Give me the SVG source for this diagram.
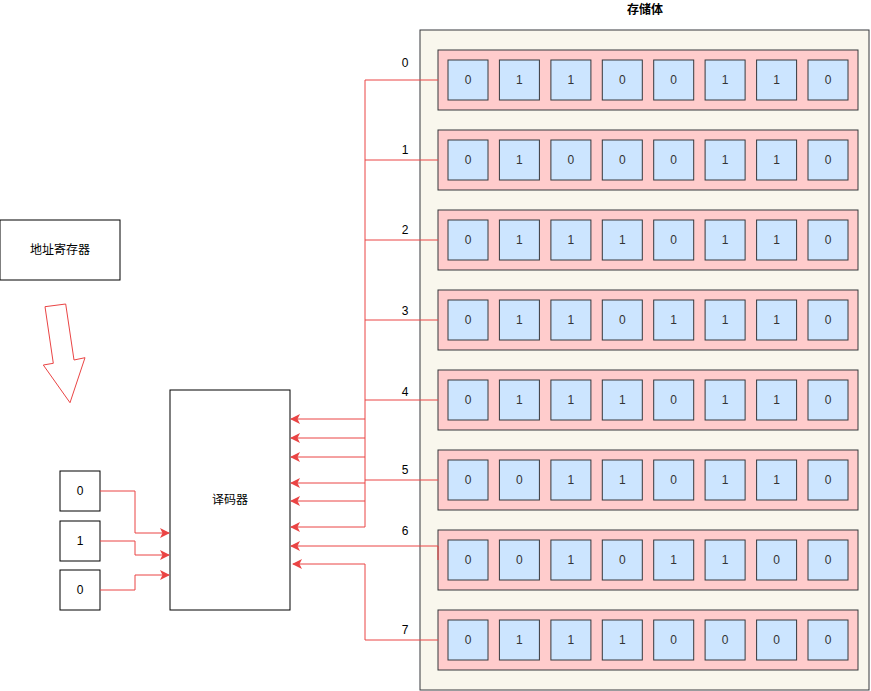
<svg xmlns="http://www.w3.org/2000/svg" width="871" height="691" viewBox="0 0 871 691">
<defs>
<marker id="ah" markerUnits="userSpaceOnUse" markerWidth="12" markerHeight="10" refX="9" refY="5" orient="auto">
<path d="M0,0 L10,5 L0,10 L2.5,5 Z" fill="#ea4444"/>
</marker>
<style>
text{font-family:"Liberation Sans","Noto Sans CJK SC",sans-serif;font-size:12px;fill:#333;text-anchor:middle;dominant-baseline:central}
.box{fill:#fff;stroke:#000;stroke-width:1}
.row{fill:#ffcccc;stroke:#36393d;stroke-width:1}
.cell{fill:#cce5ff;stroke:#36393d;stroke-width:1}
.c{fill:none;stroke:#ea4444;stroke-width:1}
.ca{fill:none;stroke:#ea4444;stroke-width:1;marker-end:url(#ah)}
.lbl{fill:#000}
</style>
</defs>
<rect width="871" height="691" fill="#fff"/>
<g id="storage">
<rect x="420" y="30" width="449" height="660" fill="#f9f7ed" stroke="#36393d"/>
<text x="645" y="10" style="font-weight:bold" class="lbl">存储体</text>
</g>
<g id="row0"><rect class="row" x="438" y="50" width="420" height="60"/>
<rect class="cell" x="448" y="60" width="40" height="40"/><text x="468" y="80">0</text>
<rect class="cell" x="499.4" y="60" width="40" height="40"/><text x="519.4" y="80">1</text>
<rect class="cell" x="550.9" y="60" width="40" height="40"/><text x="570.9" y="80">1</text>
<rect class="cell" x="602.3" y="60" width="40" height="40"/><text x="622.3" y="80">0</text>
<rect class="cell" x="653.7" y="60" width="40" height="40"/><text x="673.7" y="80">0</text>
<rect class="cell" x="705.1" y="60" width="40" height="40"/><text x="725.1" y="80">1</text>
<rect class="cell" x="756.6" y="60" width="40" height="40"/><text x="776.6" y="80">1</text>
<rect class="cell" x="808" y="60" width="40" height="40"/><text x="828" y="80">0</text>
</g>
<g id="row1"><rect class="row" x="438" y="130" width="420" height="60"/>
<rect class="cell" x="448" y="140" width="40" height="40"/><text x="468" y="160">0</text>
<rect class="cell" x="499.4" y="140" width="40" height="40"/><text x="519.4" y="160">1</text>
<rect class="cell" x="550.9" y="140" width="40" height="40"/><text x="570.9" y="160">0</text>
<rect class="cell" x="602.3" y="140" width="40" height="40"/><text x="622.3" y="160">0</text>
<rect class="cell" x="653.7" y="140" width="40" height="40"/><text x="673.7" y="160">0</text>
<rect class="cell" x="705.1" y="140" width="40" height="40"/><text x="725.1" y="160">1</text>
<rect class="cell" x="756.6" y="140" width="40" height="40"/><text x="776.6" y="160">1</text>
<rect class="cell" x="808" y="140" width="40" height="40"/><text x="828" y="160">0</text>
</g>
<g id="row2"><rect class="row" x="438" y="210" width="420" height="60"/>
<rect class="cell" x="448" y="220" width="40" height="40"/><text x="468" y="240">0</text>
<rect class="cell" x="499.4" y="220" width="40" height="40"/><text x="519.4" y="240">1</text>
<rect class="cell" x="550.9" y="220" width="40" height="40"/><text x="570.9" y="240">1</text>
<rect class="cell" x="602.3" y="220" width="40" height="40"/><text x="622.3" y="240">1</text>
<rect class="cell" x="653.7" y="220" width="40" height="40"/><text x="673.7" y="240">0</text>
<rect class="cell" x="705.1" y="220" width="40" height="40"/><text x="725.1" y="240">1</text>
<rect class="cell" x="756.6" y="220" width="40" height="40"/><text x="776.6" y="240">1</text>
<rect class="cell" x="808" y="220" width="40" height="40"/><text x="828" y="240">0</text>
</g>
<g id="row3"><rect class="row" x="438" y="290" width="420" height="60"/>
<rect class="cell" x="448" y="300" width="40" height="40"/><text x="468" y="320">0</text>
<rect class="cell" x="499.4" y="300" width="40" height="40"/><text x="519.4" y="320">1</text>
<rect class="cell" x="550.9" y="300" width="40" height="40"/><text x="570.9" y="320">1</text>
<rect class="cell" x="602.3" y="300" width="40" height="40"/><text x="622.3" y="320">0</text>
<rect class="cell" x="653.7" y="300" width="40" height="40"/><text x="673.7" y="320">1</text>
<rect class="cell" x="705.1" y="300" width="40" height="40"/><text x="725.1" y="320">1</text>
<rect class="cell" x="756.6" y="300" width="40" height="40"/><text x="776.6" y="320">1</text>
<rect class="cell" x="808" y="300" width="40" height="40"/><text x="828" y="320">0</text>
</g>
<g id="row4"><rect class="row" x="438" y="370" width="420" height="60"/>
<rect class="cell" x="448" y="380" width="40" height="40"/><text x="468" y="400">0</text>
<rect class="cell" x="499.4" y="380" width="40" height="40"/><text x="519.4" y="400">1</text>
<rect class="cell" x="550.9" y="380" width="40" height="40"/><text x="570.9" y="400">1</text>
<rect class="cell" x="602.3" y="380" width="40" height="40"/><text x="622.3" y="400">1</text>
<rect class="cell" x="653.7" y="380" width="40" height="40"/><text x="673.7" y="400">0</text>
<rect class="cell" x="705.1" y="380" width="40" height="40"/><text x="725.1" y="400">1</text>
<rect class="cell" x="756.6" y="380" width="40" height="40"/><text x="776.6" y="400">1</text>
<rect class="cell" x="808" y="380" width="40" height="40"/><text x="828" y="400">0</text>
</g>
<g id="row5"><rect class="row" x="438" y="450" width="420" height="60"/>
<rect class="cell" x="448" y="460" width="40" height="40"/><text x="468" y="480">0</text>
<rect class="cell" x="499.4" y="460" width="40" height="40"/><text x="519.4" y="480">0</text>
<rect class="cell" x="550.9" y="460" width="40" height="40"/><text x="570.9" y="480">1</text>
<rect class="cell" x="602.3" y="460" width="40" height="40"/><text x="622.3" y="480">1</text>
<rect class="cell" x="653.7" y="460" width="40" height="40"/><text x="673.7" y="480">0</text>
<rect class="cell" x="705.1" y="460" width="40" height="40"/><text x="725.1" y="480">1</text>
<rect class="cell" x="756.6" y="460" width="40" height="40"/><text x="776.6" y="480">1</text>
<rect class="cell" x="808" y="460" width="40" height="40"/><text x="828" y="480">0</text>
</g>
<g id="row6"><rect class="row" x="438" y="530" width="420" height="60"/>
<rect class="cell" x="448" y="540" width="40" height="40"/><text x="468" y="560">0</text>
<rect class="cell" x="499.4" y="540" width="40" height="40"/><text x="519.4" y="560">0</text>
<rect class="cell" x="550.9" y="540" width="40" height="40"/><text x="570.9" y="560">1</text>
<rect class="cell" x="602.3" y="540" width="40" height="40"/><text x="622.3" y="560">0</text>
<rect class="cell" x="653.7" y="540" width="40" height="40"/><text x="673.7" y="560">1</text>
<rect class="cell" x="705.1" y="540" width="40" height="40"/><text x="725.1" y="560">1</text>
<rect class="cell" x="756.6" y="540" width="40" height="40"/><text x="776.6" y="560">0</text>
<rect class="cell" x="808" y="540" width="40" height="40"/><text x="828" y="560">0</text>
</g>
<g id="row7"><rect class="row" x="438" y="610" width="420" height="60"/>
<rect class="cell" x="448" y="620" width="40" height="40"/><text x="468" y="640">0</text>
<rect class="cell" x="499.4" y="620" width="40" height="40"/><text x="519.4" y="640">1</text>
<rect class="cell" x="550.9" y="620" width="40" height="40"/><text x="570.9" y="640">1</text>
<rect class="cell" x="602.3" y="620" width="40" height="40"/><text x="622.3" y="640">1</text>
<rect class="cell" x="653.7" y="620" width="40" height="40"/><text x="673.7" y="640">0</text>
<rect class="cell" x="705.1" y="620" width="40" height="40"/><text x="725.1" y="640">0</text>
<rect class="cell" x="756.6" y="620" width="40" height="40"/><text x="776.6" y="640">0</text>
<rect class="cell" x="808" y="620" width="40" height="40"/><text x="828" y="640">0</text>
</g>
<g id="address-register">
<rect class="box" x="0" y="220" width="120" height="60"/>
<text x="60" y="250" class="lbl">地址寄存器</text>
</g>
<g id="block-arrow">
<polygon points="45,306.7 65.7,304 74,360 85,357.7 70,402.7 43.3,365 53.3,363.3" fill="none" stroke="#ea4444"/>
</g>
<g id="decoder">
<rect class="box" x="170" y="390" width="120" height="220"/>
<text x="230" y="500" class="lbl">译码器</text>
</g>
<g id="bit0"><rect class="box" x="60" y="471" width="40" height="40"/><text x="80" y="491" class="lbl">0</text></g>
<g id="bit1"><rect class="box" x="60" y="521" width="40" height="40"/><text x="80" y="541" class="lbl">1</text></g>
<g id="bit2"><rect class="box" x="60" y="570" width="40" height="40"/><text x="80" y="590" class="lbl">0</text></g>
<g id="row-labels">
<text x="405" y="63" class="lbl">0</text>
<text x="405" y="150" class="lbl">1</text>
<text x="405" y="230" class="lbl">2</text>
<text x="405" y="311" class="lbl">3</text>
<text x="405" y="392" class="lbl">4</text>
<text x="405" y="470" class="lbl">5</text>
<text x="405" y="531" class="lbl">6</text>
<text x="405" y="630" class="lbl">7</text>
</g>
<g id="connectors">
<path class="c" d="M438,80 H365 V527"/>
<path class="c" d="M438,160 H365"/>
<path class="c" d="M438,240 H365"/>
<path class="c" d="M438,320 H365"/>
<path class="c" d="M438,400 H365"/>
<path class="c" d="M438,480 H365"/>
<path class="ca" d="M365,419 H291"/>
<path class="ca" d="M365,438 H291"/>
<path class="ca" d="M365,457 H291"/>
<path class="ca" d="M365,483 H291"/>
<path class="ca" d="M365,501 H291"/>
<path class="ca" d="M365,527 H291"/>
<path class="ca" d="M438,560 V546 H291"/>
<path class="ca" d="M438,640 H365 V564 H293"/>
<path class="ca" d="M100,491 H135 V533 H169"/>
<path class="ca" d="M100,541 H135 V555 H169"/>
<path class="ca" d="M100,590 H135 V575 H169"/>
</g>
</svg>
